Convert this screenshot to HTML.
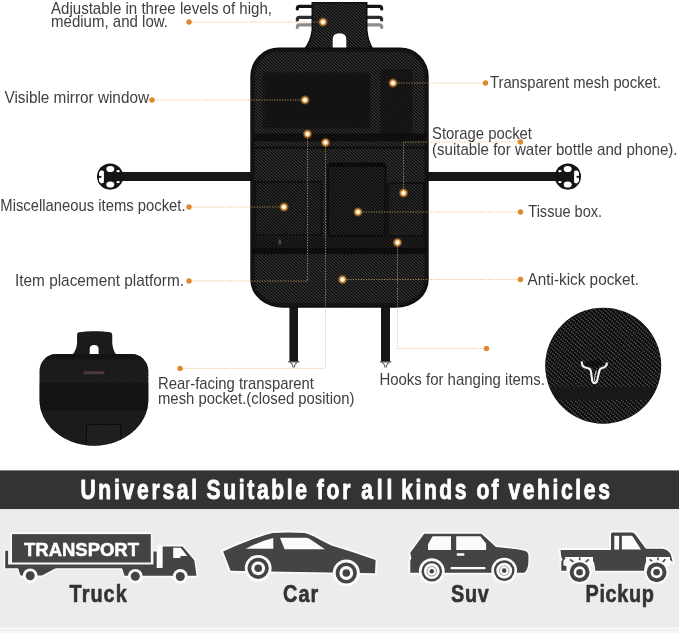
<!DOCTYPE html>
<html lang="en">
<head>
<meta charset="utf-8">
<title>Universal Suitable for all kinds of vehicles</title>
<style>
html,body{margin:0;padding:0;background:#fff;}
body{width:679px;height:633px;overflow:hidden;position:relative;}
svg{display:block;position:absolute;left:0;top:0;}
svg text{filter:grayscale(1);}
text{font-family:"Liberation Sans",Arial,sans-serif;}
</style>
</head>
<body>
<svg width="679" height="633" viewBox="0 0 679 633">
<defs>
<radialGradient id="glow">
<stop offset="0" stop-color="#fff"/>
<stop offset="0.3" stop-color="#fff2da"/>
<stop offset="0.52" stop-color="#f3a64a" stop-opacity="0.9"/>
<stop offset="1" stop-color="#c06a10" stop-opacity="0"/>
</radialGradient>
<path id="bodyp" d="M279 47.4 H400 A28.7 29 0 0 1 428.7 76.4 V280 A33 27.8 0 0 1 395.7 307.8 H283.3 A33 27.8 0 0 1 250.3 280 V76.4 A28.7 29 0 0 1 279 47.4 Z"/>
<clipPath id="bodyclip"><path d="M279 49.4 H400 A26.7 27 0 0 1 426.7 76.4 V280 A31 25.8 0 0 1 395.7 305.8 H283.3 A31 25.8 0 0 1 252.3 280 V76.4 A26.7 27 0 0 1 279 49.4 Z"/></clipPath>
<clipPath id="bodyfull"><path d="M279 47.4 H400 A28.7 29 0 0 1 428.7 76.4 V280 A33 27.8 0 0 1 395.7 307.8 H283.3 A33 27.8 0 0 1 250.3 280 V76.4 A28.7 29 0 0 1 279 47.4 Z"/><path d="M311.5 2.1 H367.5 V30 Q368.3 40 373.2 48.5 H304.3 Q310.5 40 311.5 30 Z"/></clipPath>
<clipPath id="tabclip"><path d="M313 3.6 H366 V30 Q366.8 40 371 48.5 H306.5 Q312 40 313 30 Z"/></clipPath>
<path id="foldp" d="M79.5 332.3 Q94.6 330.2 109.8 332.3 Q112.2 332.6 112.2 335 V343 Q112.6 349.5 115.8 354 H131.3 A17 17 0 0 1 148.3 371 V400 A54.35 45.7 0 0 1 94 445.7 A54.35 45.7 0 0 1 39.6 400 V371 A17 17 0 0 1 56.6 354 H73.2 Q76.6 349.5 77.1 343 V335 Q77.1 332.6 79.5 332.3 Z"/>
<clipPath id="foldclip"><path d="M79.5 332.3 Q94.6 330.2 109.8 332.3 Q112.2 332.6 112.2 335 V343 Q112.6 349.5 115.8 354 H131.3 A17 17 0 0 1 148.3 371 V400 A54.35 45.7 0 0 1 94 445.7 A54.35 45.7 0 0 1 39.6 400 V371 A17 17 0 0 1 56.6 354 H73.2 Q76.6 349.5 77.1 343 V335 Q77.1 332.6 79.5 332.3 Z"/></clipPath>
<clipPath id="circ"><circle cx="603.2" cy="365.7" r="57.6"/></clipPath>
<g id="wheelA"><circle r="13.2" fill="#ececec"/><circle r="11.2"/><circle r="7.4" fill="#ececec"/><circle r="4.2"/></g>
<g id="wheelB"><circle r="12.7" fill="#ececec"/><circle r="10.3"/><circle r="6.9" fill="#ececec"/><circle r="4.6"/><circle r="2.8" fill="#ececec"/><circle r="1.4"/></g>
<g id="wheelC"><circle r="11.5" fill="#ececec"/><circle r="9.6"/><circle r="5.8" fill="#ececec"/><circle r="3"/></g>
<g id="wheelT"><circle r="7.4" fill="#ececec"/><circle r="4.5"/></g>
</defs>
<rect width="679" height="633" fill="#fff"/>

<path d="M189 22 L323 22M152 100 L305 100M485.5 83 L393 83M189 207 L284 207M189 281 L307.5 281 L307.5 134M180 368.4 L325.5 368.4 L325.5 142.5M520.5 142 L403.5 142 L403.5 193M520.5 212 L358 212M520.5 279.5 L342.5 279.5M486.5 348.5 L397.5 348.5 L397.5 242.5" fill="none" stroke="#e6b06a" stroke-width="1" stroke-dasharray="1.3 1.3" opacity="0.72"/>
<g id="organizer">
<rect x="112" y="172" width="140" height="9" fill="#181818"/>
<rect x="427" y="172" width="140" height="9" fill="#181818"/>
<g transform="translate(110.1 176.6) scale(1 1)"><circle r="13.1" fill="#141414"/><ellipse cx="0.2" cy="-7.6" rx="4" ry="3.1" fill="#fff"/><ellipse cx="0.2" cy="7.9" rx="4" ry="3.1" fill="#fff"/><path d="M-11.1 -4 Q-10.2 -6.2 -8.2 -6.4 L-6.2 -5.4 V5.8 L-8.2 6.8 Q-10.2 6.6 -11.1 4.4 Z" fill="#fff"/><rect x="-13" y="-0.7" width="4.3" height="1.9" fill="#141414"/><ellipse cx="8" cy="-5.4" rx="1.7" ry="1.1" fill="#fff"/><ellipse cx="8" cy="5.5" rx="1.7" ry="1.1" fill="#fff"/></g>
<g transform="translate(567.9 176.6) scale(-1 1)"><circle r="13.1" fill="#141414"/><ellipse cx="0.2" cy="-7.6" rx="4" ry="3.1" fill="#fff"/><ellipse cx="0.2" cy="7.9" rx="4" ry="3.1" fill="#fff"/><path d="M-11.1 -4 Q-10.2 -6.2 -8.2 -6.4 L-6.2 -5.4 V5.8 L-8.2 6.8 Q-10.2 6.6 -11.1 4.4 Z" fill="#fff"/><rect x="-13" y="-0.7" width="4.3" height="1.9" fill="#141414"/><ellipse cx="8" cy="-5.4" rx="1.7" ry="1.1" fill="#fff"/><ellipse cx="8" cy="5.5" rx="1.7" ry="1.1" fill="#fff"/></g>
<rect x="289.4" y="305" width="8.6" height="56.5" fill="#161616"/>
<rect x="381" y="305" width="9" height="56.5" fill="#161616"/>
<path d="M288.2 361.8 H299.2" stroke="#444" stroke-width="1.3" fill="none"/>
<path d="M290.2 362.5 Q292.7 363.5 293.09999999999997 367.5 M297.2 362.5 Q294.7 363.5 294.3 367.5" stroke="#666" stroke-width="1.1" fill="none"/>
<path d="M380.1 361.8 H391.1" stroke="#444" stroke-width="1.3" fill="none"/>
<path d="M382.1 362.5 Q384.6 363.5 385.0 367.5 M389.1 362.5 Q386.6 363.5 386.20000000000005 367.5" stroke="#666" stroke-width="1.1" fill="none"/>
<path d="M313 6.4 H299.5 Q297.3 6.4 297.3 9.0" stroke="#151515" stroke-width="3.2" fill="none" stroke-linecap="round"/>
<path d="M366 6.4 H379.5 Q381.7 6.4 381.7 9.0" stroke="#151515" stroke-width="3.2" fill="none" stroke-linecap="round"/>
<path d="M313 17.3 H299.5 Q297.3 17.3 297.3 19.900000000000002" stroke="#2e2e2e" stroke-width="3.2" fill="none" stroke-linecap="round"/>
<path d="M366 17.3 H379.5 Q381.7 17.3 381.7 19.900000000000002" stroke="#2e2e2e" stroke-width="3.2" fill="none" stroke-linecap="round"/>
<path d="M313 24.8 H299.5 Q297.3 24.8 297.3 27.400000000000002" stroke="#8c8c8c" stroke-width="3.2" fill="none" stroke-linecap="round"/>
<path d="M366 24.8 H379.5 Q381.7 24.8 381.7 27.400000000000002" stroke="#8c8c8c" stroke-width="3.2" fill="none" stroke-linecap="round"/>
<path id="tabp" d="M311.5 2.1 H367.5 V30 Q368.3 40 373.2 48.5 H304.3 Q310.5 40 311.5 30 Z" fill="#0f0f0f"/>
<g clip-path="url(#tabclip)">
<path d="M378.89 0.00L380.00 1.00M375.56 0.00L380.00 4.00M372.22 0.00L380.00 7.00M368.89 0.00L380.00 10.00M365.56 0.00L380.00 13.00M362.22 0.00L380.00 16.00M358.89 -0.00L380.00 19.00M355.56 0.00L380.00 22.00M352.22 0.00L380.00 25.00M348.89 0.00L380.00 28.00M345.56 0.00L380.00 31.00M342.22 0.00L380.00 34.00M338.89 0.00L380.00 37.00M335.56 -0.00L380.00 40.00M332.22 0.00L380.00 43.00M328.89 0.00L380.00 46.00M325.56 0.00L380.00 49.00M322.22 0.00L377.78 50.00M318.89 0.00L374.44 50.00M315.56 0.00L371.11 50.00M312.22 0.00L367.78 50.00M308.89 -0.00L364.44 50.00M305.56 0.00L361.11 50.00M302.22 0.00L357.78 50.00M300.00 1.00L354.44 50.00M300.00 4.00L351.11 50.00M300.00 7.00L347.78 50.00M300.00 10.00L344.44 50.00M300.00 13.00L341.11 50.00M300.00 16.00L337.78 50.00M300.00 19.00L334.44 50.00M300.00 22.00L331.11 50.00M300.00 25.00L327.78 50.00M300.00 28.00L324.44 50.00M300.00 31.00L321.11 50.00M300.00 34.00L317.78 50.00M300.00 37.00L314.44 50.00M300.00 40.00L311.11 50.00M300.00 43.00L307.78 50.00M300.00 46.00L304.44 50.00M300.00 49.00L301.11 50.00" stroke="#464646" stroke-width="0.92" fill="none"/>
</g>
<path d="M332.7 48.5 V39.5 Q332.7 33.2 339.5 33.2 Q346.3 33.2 346.3 39.5 V48.5 Z" fill="#fff"/>
<use href="#bodyp" fill="#0f0f0f"/>
<g clip-path="url(#bodyclip)">
<path d="M428.33 47.00L430.00 48.50M425.00 47.00L430.00 51.50M421.67 47.00L430.00 54.50M418.33 47.00L430.00 57.50M415.00 47.00L430.00 60.50M411.67 47.00L430.00 63.50M408.33 47.00L430.00 66.50M405.00 47.00L430.00 69.50M401.67 47.00L430.00 72.50M398.33 47.00L430.00 75.50M395.00 47.00L430.00 78.50M391.67 47.00L430.00 81.50M388.33 47.00L430.00 84.50M385.00 47.00L430.00 87.50M381.67 47.00L430.00 90.50M378.33 47.00L430.00 93.50M375.00 47.00L430.00 96.50M371.67 47.00L430.00 99.50M368.33 47.00L430.00 102.50M365.00 47.00L430.00 105.50M361.67 47.00L430.00 108.50M358.33 47.00L430.00 111.50M355.00 47.00L430.00 114.50M351.67 47.00L430.00 117.50M348.33 47.00L430.00 120.50M345.00 47.00L430.00 123.50M341.67 47.00L430.00 126.50M338.33 47.00L430.00 129.50M335.00 47.00L430.00 132.50M331.67 47.00L430.00 135.50M328.33 47.00L430.00 138.50M325.00 47.00L430.00 141.50M321.67 47.00L430.00 144.50M318.33 47.00L430.00 147.50M315.00 47.00L430.00 150.50M311.67 47.00L430.00 153.50M308.33 47.00L430.00 156.50M305.00 47.00L430.00 159.50M301.67 47.00L430.00 162.50M298.33 47.00L430.00 165.50M295.00 47.00L430.00 168.50M291.67 47.00L430.00 171.50M288.33 47.00L430.00 174.50M285.00 47.00L430.00 177.50M281.67 47.00L430.00 180.50M278.33 47.00L430.00 183.50M275.00 47.00L430.00 186.50M271.67 47.00L430.00 189.50M268.33 47.00L430.00 192.50M265.00 47.00L430.00 195.50M261.67 47.00L430.00 198.50M258.33 47.00L430.00 201.50M255.00 47.00L430.00 204.50M251.67 47.00L430.00 207.50M250.00 48.50L430.00 210.50M250.00 51.50L430.00 213.50M250.00 54.50L430.00 216.50M250.00 57.50L430.00 219.50M250.00 60.50L430.00 222.50M250.00 63.50L430.00 225.50M250.00 66.50L430.00 228.50M250.00 69.50L430.00 231.50M250.00 72.50L430.00 234.50M250.00 75.50L430.00 237.50M250.00 78.50L430.00 240.50M250.00 81.50L430.00 243.50M250.00 84.50L430.00 246.50M250.00 87.50L430.00 249.50M250.00 90.50L430.00 252.50M250.00 93.50L430.00 255.50M250.00 96.50L430.00 258.50M250.00 99.50L430.00 261.50M250.00 102.50L430.00 264.50M250.00 105.50L430.00 267.50M250.00 108.50L430.00 270.50M250.00 111.50L430.00 273.50M250.00 114.50L430.00 276.50M250.00 117.50L430.00 279.50M250.00 120.50L430.00 282.50M250.00 123.50L430.00 285.50M250.00 126.50L430.00 288.50M250.00 129.50L430.00 291.50M250.00 132.50L430.00 294.50M250.00 135.50L430.00 297.50M250.00 138.50L430.00 300.50M250.00 141.50L430.00 303.50M250.00 144.50L430.00 306.50M250.00 147.50L428.33 308.00M250.00 150.50L425.00 308.00M250.00 153.50L421.67 308.00M250.00 156.50L418.33 308.00M250.00 159.50L415.00 308.00M250.00 162.50L411.67 308.00M250.00 165.50L408.33 308.00M250.00 168.50L405.00 308.00M250.00 171.50L401.67 308.00M250.00 174.50L398.33 308.00M250.00 177.50L395.00 308.00M250.00 180.50L391.67 308.00M250.00 183.50L388.33 308.00M250.00 186.50L385.00 308.00M250.00 189.50L381.67 308.00M250.00 192.50L378.33 308.00M250.00 195.50L375.00 308.00M250.00 198.50L371.67 308.00M250.00 201.50L368.33 308.00M250.00 204.50L365.00 308.00M250.00 207.50L361.67 308.00M250.00 210.50L358.33 308.00M250.00 213.50L355.00 308.00M250.00 216.50L351.67 308.00M250.00 219.50L348.33 308.00M250.00 222.50L345.00 308.00M250.00 225.50L341.67 308.00M250.00 228.50L338.33 308.00M250.00 231.50L335.00 308.00M250.00 234.50L331.67 308.00M250.00 237.50L328.33 308.00M250.00 240.50L325.00 308.00M250.00 243.50L321.67 308.00M250.00 246.50L318.33 308.00M250.00 249.50L315.00 308.00M250.00 252.50L311.67 308.00M250.00 255.50L308.33 308.00M250.00 258.50L305.00 308.00M250.00 261.50L301.67 308.00M250.00 264.50L298.33 308.00M250.00 267.50L295.00 308.00M250.00 270.50L291.67 308.00M250.00 273.50L288.33 308.00M250.00 276.50L285.00 308.00M250.00 279.50L281.67 308.00M250.00 282.50L278.33 308.00M250.00 285.50L275.00 308.00M250.00 288.50L271.67 308.00M250.00 291.50L268.33 308.00M250.00 294.50L265.00 308.00M250.00 297.50L261.67 308.00M250.00 300.50L258.33 308.00M250.00 303.50L255.00 308.00M250.00 306.50L251.67 308.00" stroke="#464646" stroke-width="0.92" fill="none"/>
<rect x="262.5" y="72.5" width="108" height="56" rx="3" fill="#0b0b0b" opacity="0.45"/>
<rect x="266" y="75" width="103" height="52" fill="#0e0e0e" opacity="0.35"/>
<rect x="380.5" y="69" width="32" height="66" rx="2" fill="#0b0b0b" opacity="0.5"/>
<rect x="250" y="133.5" width="180" height="8" fill="#0e0e0e"/>
<rect x="250" y="146.5" width="180" height="2.2" fill="#0e0e0e"/>
<rect x="255" y="182" width="66.5" height="53" fill="#0b0b0b" fill-opacity="0.12" stroke="#0b0b0b" stroke-width="1.6" stroke-opacity="0.8"/>
<rect x="328" y="164" width="57.5" height="72" rx="3" fill="#0b0b0b" fill-opacity="0.3" stroke="#0b0b0b" stroke-width="2" stroke-opacity="0.85"/>
<rect x="388" y="183" width="36" height="53" fill="#0b0b0b" fill-opacity="0.12" stroke="#0b0b0b" stroke-width="1.6" stroke-opacity="0.8"/>
<rect x="329" y="162.5" width="55.5" height="4.5" fill="#0b0b0b" opacity="0.85"/>
<rect x="250" y="236.5" width="180" height="11.5" fill="#0d0d0d" opacity="0.45"/>
<rect x="250" y="248" width="180" height="6" fill="#0c0c0c"/>
<rect x="278.5" y="239.5" width="2.6" height="5" fill="#4a4a4a"/>
<use href="#bodyp" fill="none" stroke="#0d0d0d" stroke-width="9" stroke-opacity="0.6"/>
</g>
</g>
<g clip-path="url(#bodyfull)"><path d="M189 22 L323 22M152 100 L305 100M485.5 83 L393 83M189 207 L284 207M189 281 L307.5 281 L307.5 134M180 368.4 L325.5 368.4 L325.5 142.5M520.5 142 L403.5 142 L403.5 193M520.5 212 L358 212M520.5 279.5 L342.5 279.5M486.5 348.5 L397.5 348.5 L397.5 242.5" fill="none" stroke="#b8955e" stroke-width="1" stroke-dasharray="1.3 1.3" opacity="0.85"/></g>
<g>
<circle cx="189" cy="22" r="2.7" fill="#dc8a2c"/>
<circle cx="152" cy="100" r="2.7" fill="#dc8a2c"/>
<circle cx="485.5" cy="83" r="2.7" fill="#dc8a2c"/>
<circle cx="189" cy="207" r="2.7" fill="#dc8a2c"/>
<circle cx="189" cy="281" r="2.7" fill="#dc8a2c"/>
<circle cx="180" cy="368.4" r="2.7" fill="#dc8a2c"/>
<circle cx="520.5" cy="142" r="2.7" fill="#dc8a2c"/>
<circle cx="520.5" cy="212" r="2.7" fill="#dc8a2c"/>
<circle cx="520.5" cy="279.5" r="2.7" fill="#dc8a2c"/>
<circle cx="486.5" cy="348.5" r="2.7" fill="#dc8a2c"/>
<circle cx="323" cy="22" r="5.2" fill="url(#glow)"/>
<circle cx="305" cy="100" r="5.2" fill="url(#glow)"/>
<circle cx="393" cy="83" r="5.2" fill="url(#glow)"/>
<circle cx="284" cy="207" r="5.2" fill="url(#glow)"/>
<circle cx="307.5" cy="134" r="5.2" fill="url(#glow)"/>
<circle cx="325.5" cy="142.5" r="5.2" fill="url(#glow)"/>
<circle cx="403.5" cy="193" r="5.2" fill="url(#glow)"/>
<circle cx="358" cy="212" r="5.2" fill="url(#glow)"/>
<circle cx="342.5" cy="279.5" r="5.2" fill="url(#glow)"/>
<circle cx="397.5" cy="242.5" r="5.2" fill="url(#glow)"/>
</g>
<g>
<text x="51" y="14.4" font-size="16.2" font-weight="normal" fill="#404040" textLength="221" lengthAdjust="spacingAndGlyphs">Adjustable in three levels of high,</text>
<text x="51" y="26.9" font-size="16.2" font-weight="normal" fill="#404040" textLength="117" lengthAdjust="spacingAndGlyphs">medium, and low.</text>
<text x="4.5" y="102.5" font-size="16.2" font-weight="normal" fill="#404040" textLength="144.5" lengthAdjust="spacingAndGlyphs">Visible mirror window</text>
<text x="490" y="88" font-size="16.2" font-weight="normal" fill="#404040" textLength="171" lengthAdjust="spacingAndGlyphs">Transparent mesh pocket.</text>
<text x="432" y="139" font-size="16.2" font-weight="normal" fill="#404040" textLength="100" lengthAdjust="spacingAndGlyphs">Storage pocket</text>
<text x="432" y="155.0" font-size="16.2" font-weight="normal" fill="#404040" textLength="245.5" lengthAdjust="spacingAndGlyphs">(suitable for water bottle and phone).</text>
<text x="0.3" y="211" font-size="16.2" font-weight="normal" fill="#404040" textLength="185.3" lengthAdjust="spacingAndGlyphs">Miscellaneous items pocket.</text>
<text x="15" y="286" font-size="16.2" font-weight="normal" fill="#404040" textLength="169" lengthAdjust="spacingAndGlyphs">Item placement platform.</text>
<text x="528.3" y="217" font-size="16.2" font-weight="normal" fill="#404040" textLength="73.8" lengthAdjust="spacingAndGlyphs">Tissue box.</text>
<text x="527.5" y="285" font-size="16.2" font-weight="normal" fill="#404040" textLength="111.5" lengthAdjust="spacingAndGlyphs">Anti-kick pocket.</text>
<text x="158" y="388.5" font-size="16.2" font-weight="normal" fill="#404040" textLength="156" lengthAdjust="spacingAndGlyphs">Rear-facing transparent</text>
<text x="158" y="403.5" font-size="16.2" font-weight="normal" fill="#404040" textLength="196.5" lengthAdjust="spacingAndGlyphs">mesh pocket.(closed position)</text>
<text x="379.4" y="384.7" font-size="16.2" font-weight="normal" fill="#404040" textLength="165.6" lengthAdjust="spacingAndGlyphs">Hooks for hanging items.</text>
</g>
<g id="folded">
<use href="#foldp" fill="#131313"/>
<g clip-path="url(#foldclip)">
<path d="M149.38 330.00L150.00 330.50M146.20 330.00L150.00 333.08M143.02 330.00L150.00 335.65M139.85 330.00L150.00 338.22M136.67 330.00L150.00 340.80M133.49 330.00L150.00 343.37M130.31 330.00L150.00 345.94M127.13 330.00L150.00 348.52M123.96 330.00L150.00 351.09M120.78 330.00L150.00 353.66M117.60 330.00L150.00 356.24M114.42 330.00L150.00 358.81M111.24 330.00L150.00 361.38M108.07 330.00L150.00 363.96M104.89 330.00L150.00 366.53M101.71 330.00L150.00 369.11M98.53 330.00L150.00 371.68M95.35 330.00L150.00 374.25M92.18 330.00L150.00 376.83M89.00 330.00L150.00 379.40M85.82 330.00L150.00 381.97M82.64 330.00L150.00 384.55M79.46 330.00L150.00 387.12M76.29 330.00L150.00 389.69M73.11 330.00L150.00 392.27M69.93 330.00L150.00 394.84M66.75 330.00L150.00 397.41M63.57 330.00L150.00 399.99M60.39 330.00L150.00 402.56M57.22 330.00L150.00 405.13M54.04 330.00L150.00 407.71M50.86 330.00L150.00 410.28M47.68 330.00L150.00 412.85M44.50 330.00L150.00 415.43M41.33 330.00L150.00 418.00M39.00 330.69L150.00 420.58M39.00 333.26L150.00 423.15M39.00 335.84L150.00 425.72M39.00 338.41L150.00 428.30M39.00 340.98L150.00 430.87M39.00 343.56L150.00 433.44M39.00 346.13L150.00 436.02M39.00 348.70L150.00 438.59M39.00 351.28L150.00 441.16M39.00 353.85L150.00 443.74M39.00 356.42L150.00 446.31M39.00 359.00L147.67 447.00M39.00 361.57L144.50 447.00M39.00 364.15L141.32 447.00M39.00 366.72L138.14 447.00M39.00 369.29L134.96 447.00M39.00 371.87L131.78 447.00M39.00 374.44L128.61 447.00M39.00 377.01L125.43 447.00M39.00 379.59L122.25 447.00M39.00 382.16L119.07 447.00M39.00 384.73L115.89 447.00M39.00 387.31L112.71 447.00M39.00 389.88L109.54 447.00M39.00 392.45L106.36 447.00M39.00 395.03L103.18 447.00M39.00 397.60L100.00 447.00M39.00 400.17L96.82 447.00M39.00 402.75L93.65 447.00M39.00 405.32L90.47 447.00M39.00 407.89L87.29 447.00M39.00 410.47L84.11 447.00M39.00 413.04L80.93 447.00M39.00 415.62L77.76 447.00M39.00 418.19L74.58 447.00M39.00 420.76L71.40 447.00M39.00 423.34L68.22 447.00M39.00 425.91L65.04 447.00M39.00 428.48L61.87 447.00M39.00 431.06L58.69 447.00M39.00 433.63L55.51 447.00M39.00 436.20L52.33 447.00M39.00 438.78L49.15 447.00M39.00 441.35L45.98 447.00M39.00 443.92L42.80 447.00M39.00 446.50L39.62 447.00" stroke="#2c2c2c" stroke-width="0.9" fill="none"/>
<rect x="39" y="354" width="110" height="5.5" fill="#111" opacity="0.8"/>
<rect x="39" y="383" width="110" height="28" fill="#0e0e0e" opacity="0.55"/>
<rect x="86.5" y="424.5" width="34.2" height="22" fill="#2a2a2a" opacity="0.3"/>
<path d="M86.5 446 V424.5 H120.7 V446" fill="none" stroke="#0c0c0c" stroke-width="1"/>
</g>
<path d="M89.7 354 V349 Q89.7 345 94.1 345 Q98.6 345 98.6 349 V354 Z" fill="#fff"/>
<rect x="83.3" y="371.3" width="21.3" height="3" rx="1.5" fill="#4e3a38"/>
</g>
<g id="detail">
<circle cx="603.2" cy="365.7" r="58" fill="#080808"/>
<g clip-path="url(#circ)">
<path d="M599.92 279.51L688.55 362.15M598.60 282.65L686.36 364.49M595.56 284.19L684.18 366.83M594.24 287.33L682.00 369.17M591.20 288.87L679.82 371.51M589.87 292.02L677.63 373.86M586.83 293.55L675.45 376.20M585.51 296.70L673.27 378.54M582.47 298.24L671.09 380.88M581.14 301.38L668.91 383.22M578.10 302.92L666.72 385.56M576.78 306.06L664.54 387.90M573.74 307.60L662.36 390.24M572.41 310.74L660.18 392.58M569.37 312.28L657.99 394.92M568.05 315.42L655.81 397.26M565.01 316.96L653.63 399.60M563.68 320.10L651.45 401.94M560.64 321.64L649.26 404.28M559.32 324.78L647.08 406.62M556.28 326.32L644.90 408.96M554.95 329.46L642.72 411.30M551.91 331.00L640.53 413.64M550.59 334.14L638.35 415.98M547.55 335.68L636.17 418.32M546.22 338.82L633.99 420.66M543.18 340.36L631.80 423.00M541.86 343.50L629.62 425.34M538.82 345.04L627.44 427.68M537.49 348.18L625.26 430.02M534.45 349.72L623.07 432.36M533.13 352.86L620.89 434.70M530.09 354.40L618.71 437.04M528.77 357.54L616.53 439.38M525.72 359.08L614.35 441.72M524.40 362.23L612.16 444.07M521.36 363.76L609.98 446.41M520.04 366.91L607.80 448.75M516.99 368.45L605.62 451.09" stroke="#4c4c4c" stroke-width="1.75" stroke-dasharray="1.45 0.9" fill="none"/>
<rect x="545" y="387.3" width="120" height="12.3" fill="#181818"/>
<ellipse cx="594.3" cy="363.4" rx="9" ry="3.2" fill="#0a0a0a" opacity="0.6"/>
</g>
<path d="M581.9 362.3 Q581.6 366 584.6 367.2 L588.8 368.4 Q590.6 369 591 372 L592.2 380.4 Q592.8 383 594.6 383 Q596.6 383 597.2 380 L599.3 371 Q599.8 368.6 602 368 L604.4 367.2 Q606.8 366 606.8 363.2" fill="none" stroke="#f4f4f4" stroke-width="2.1" stroke-linecap="round" stroke-linejoin="round"/>
<path d="M594.4 381 Q594.6 375 596.4 370.5" fill="none" stroke="#d8d8d8" stroke-width="1"/>
</g>
<rect x="0" y="470.4" width="679" height="38.8" fill="#333333"/>
<rect x="0" y="509.2" width="679" height="118.6" fill="#ececec"/>
<rect x="0" y="627.8" width="679" height="5.2" fill="#f7f7f7"/>
<rect x="0" y="630" width="679" height="1" fill="#efefef"/>
<text transform="scale(0.77 1)" y="498.9" font-size="27.4" font-weight="bold" fill="#ffffff" stroke="#ffffff" stroke-width="0.9" stroke-linejoin="round" vector-effect="non-scaling-stroke"><tspan x="104.45" textLength="151.60" lengthAdjust="spacing">Universal</tspan> <tspan x="268.27" textLength="130.55" lengthAdjust="spacing">Suitable</tspan> <tspan x="411.26" textLength="44.01" lengthAdjust="spacing">for</tspan> <tspan x="469.29" textLength="40.21" lengthAdjust="spacing">all</tspan> <tspan x="521.09" textLength="84.71" lengthAdjust="spacing">kinds</tspan> <tspan x="618.73" textLength="28.61" lengthAdjust="spacing">of</tspan> <tspan x="660.37" textLength="131.68" lengthAdjust="spacing">vehicles</tspan></text>
<g id="vehicles">
<g id="truck">
<path d="M12 534.1 H150.8 V562.5 H12 Z" fill="#fbfbfb" stroke="#fbfbfb" stroke-width="3.2" stroke-linejoin="round"/>
<path d="M5.2 550.8 H8.1 V564.4 H153.4 V551.5 H156.7 V568.2 H5.2 Z" fill="#fbfbfb" stroke="#fbfbfb" stroke-width="2.6" stroke-linejoin="round"/>
<path d="M18 568 H56 L42 575.6 H20.5 Z" fill="#fbfbfb" stroke="#fbfbfb" stroke-width="2.6" stroke-linejoin="round"/>
<path d="M122 568 H162.6 V546.4 H182.5 L194.3 560.3 L196.5 575.8 H124.5 Z" fill="#fbfbfb" stroke="#fbfbfb" stroke-width="3.2" stroke-linejoin="round"/>
<path d="M5.2 550.8 H8.1 V564.4 H153.4 V551.5 H156.7 V568.2 H5.2 Z" fill="#444444"/>
<path d="M18 568 H56 L42 575.6 H20.5 Z" fill="#444444"/>
<path d="M122 568 H162.6 V546.4 H182.5 L194.3 560.3 L196.5 575.8 H124.5 Z" fill="#444444"/>
<rect x="157.3" y="544.8" width="4.9" height="20.6" fill="#fbfbfb"/>
<rect x="10.6" y="532.7" width="141.6" height="31.2" fill="#fbfbfb"/>
<rect x="12" y="534.1" width="138.8" height="28.4" fill="#444444"/>
<path d="M173.2 547.8 H180.8 L187.2 556 H180.4 V558.1 H173.2 Z" fill="#fbfbfb"/>
<circle cx="30.2" cy="575.8" r="7.4" fill="#fbfbfb"/><circle cx="30.2" cy="575.8" r="4.5" fill="#444444"/><circle cx="30.2" cy="575.8" r="0" fill="#fbfbfb"/><circle cx="30.2" cy="575.8" r="0" fill="#444444"/>
<circle cx="135.3" cy="576.3" r="7.4" fill="#fbfbfb"/><circle cx="135.3" cy="576.3" r="4.5" fill="#444444"/><circle cx="135.3" cy="576.3" r="0" fill="#fbfbfb"/><circle cx="135.3" cy="576.3" r="0" fill="#444444"/>
<circle cx="180.3" cy="576.5" r="7.4" fill="#fbfbfb"/><circle cx="180.3" cy="576.5" r="4.5" fill="#444444"/><circle cx="180.3" cy="576.5" r="0" fill="#fbfbfb"/><circle cx="180.3" cy="576.5" r="0" fill="#444444"/>
</g>
<text x="24" y="556.1" font-size="19" font-weight="bold" fill="#fff" textLength="115" lengthAdjust="spacingAndGlyphs" stroke="#fff" stroke-width="0.5" stroke-linejoin="round">TRANSPORT</text>
<g id="car">
<path d="M223.2 551.4 Q236 545.4 247.5 541.2 Q262 535.6 272.6 533.1 Q288 531.8 305 533 Q309 534 314 536.6 Q323 541.6 331.3 545.5 Q354 552.3 375.6 559.9 L375 573.3 L230.6 570.8 Z" fill="#fbfbfb" stroke="#fbfbfb" stroke-width="3.6" stroke-linejoin="round"/><path d="M223.2 551.4 Q236 545.4 247.5 541.2 Q262 535.6 272.6 533.1 Q288 531.8 305 533 Q309 534 314 536.6 Q323 541.6 331.3 545.5 Q354 552.3 375.6 559.9 L375 573.3 L230.6 570.8 Z" fill="#444444"/>
<path d="M245.7 548.8 Q259 541.6 273.2 538 L273.4 548.8 Z" fill="#fbfbfb"/>
<path d="M280 537.8 H305.5 Q308 537.8 310.2 539.2 L325 549.2 H284.6 Z" fill="#fbfbfb"/>
<circle cx="258.2" cy="568.3" r="13.4" fill="#fbfbfb"/><circle cx="258.2" cy="568.3" r="10.6" fill="#444444"/><circle cx="258.2" cy="568.3" r="6.9" fill="#fbfbfb"/><circle cx="258.2" cy="568.3" r="3.8" fill="#444444"/>
<circle cx="346.3" cy="573.0" r="13.6" fill="#fbfbfb"/><circle cx="346.3" cy="573.0" r="10.6" fill="#444444"/><circle cx="346.3" cy="573.0" r="6.9" fill="#fbfbfb"/><circle cx="346.3" cy="573.0" r="3.8" fill="#444444"/>
</g>
<g id="suv">
<path d="M424.2 533.7 H481.5 L495.9 547.1 Q512 548.6 524.8 550.7 Q528.2 552 528.4 555.5 V562 Q528.2 566.5 526.9 569.2 Q525.8 572 523.8 572.8 H410.3 V560 L411.4 558.8 L410.3 552.7 Z" fill="#fbfbfb" stroke="#fbfbfb" stroke-width="3.6" stroke-linejoin="round"/><path d="M424.2 533.7 H481.5 L495.9 547.1 Q512 548.6 524.8 550.7 Q528.2 552 528.4 555.5 V562 Q528.2 566.5 526.9 569.2 Q525.8 572 523.8 572.8 H410.3 V560 L411.4 558.8 L410.3 552.7 Z" fill="#444444"/>
<path d="M432.6 536.2 H451 V549.9 H428 V544.2 Z" fill="#fbfbfb"/>
<path d="M456.2 536.2 H480.3 L486.1 543.5 V549.9 H456.2 Z" fill="#fbfbfb"/>
<rect x="456.7" y="553.3" width="7.7" height="2.4" rx="0.8" fill="#fbfbfb"/>
<rect x="450.5" y="567" width="35.1" height="2.3" rx="1.1" fill="#fbfbfb"/>
<circle cx="431.8" cy="571.2" r="12.9" fill="#fbfbfb"/><circle cx="431.8" cy="571.2" r="10.3" fill="#444444"/><circle cx="431.8" cy="571.2" r="7.9" fill="#fbfbfb"/><circle cx="431.8" cy="571.2" r="5.2" fill="#9a9a9a"/><circle cx="431.8" cy="571.2" r="4.3" fill="#fbfbfb"/><circle cx="431.8" cy="571.2" r="2.3" fill="#444444"/>
<circle cx="504.2" cy="570.6" r="12.9" fill="#fbfbfb"/><circle cx="504.2" cy="570.6" r="10.3" fill="#444444"/><circle cx="504.2" cy="570.6" r="7.9" fill="#fbfbfb"/><circle cx="504.2" cy="570.6" r="5.2" fill="#9a9a9a"/><circle cx="504.2" cy="570.6" r="4.3" fill="#fbfbfb"/><circle cx="504.2" cy="570.6" r="2.3" fill="#444444"/>
</g>
<g id="pickup">
<path d="M611 534.2 Q611 532.4 612.8 532.4 H631.6 Q634 532.4 635.3 534.4 L645.8 548.7 H662.5 Q668.6 549.6 670.9 554.9 L672.6 562.2 L669.8 559.6 Q668 557 664.5 557 H649.7 Q644.6 561 644 570.8 H595.3 Q595 561 590.1 556.9 H564.9 L565.6 558.6 L563.4 561 L563.4 565.6 L566.4 566 V570.8 H561.3 V561.5 L562.6 559.6 L561.3 556.9 L560.5 549.9 H611 Z" fill="#fbfbfb" stroke="#fbfbfb" stroke-width="3.6" stroke-linejoin="round"/><path d="M611 534.2 Q611 532.4 612.8 532.4 H631.6 Q634 532.4 635.3 534.4 L645.8 548.7 H662.5 Q668.6 549.6 670.9 554.9 L672.6 562.2 L669.8 559.6 Q668 557 664.5 557 H649.7 Q644.6 561 644 570.8 H595.3 Q595 561 590.1 556.9 H564.9 L565.6 558.6 L563.4 561 L563.4 565.6 L566.4 566 V570.8 H561.3 V561.5 L562.6 559.6 L561.3 556.9 L560.5 549.9 H611 Z" fill="#444444"/>
<path d="M621.9 535.8 H631 Q632.2 535.8 633 537 L641 549.6 H621.9 Z" fill="#fbfbfb"/>
<rect x="614.3" y="535.8" width="4.8" height="13.8" fill="#fbfbfb"/>
<path d="M566.5 557 H593 V566 H566.5 Z M646 557 H670 V566 H646 Z" fill="#fbfbfb"/>
<path d="M570 559.3 L573.8 562.4 M588.8 559.3 L585 562.6 M579.7 557.5 V560.6 M649.8 559.3 L653 562.2 M665.2 559.3 L662.6 562.6 M658 557.5 V560.6" stroke="#444444" stroke-width="1.6" fill="none"/>
<circle cx="579.6" cy="572.2" r="12" fill="#fbfbfb"/><circle cx="579.6" cy="572.2" r="9.9" fill="#444444"/><circle cx="579.6" cy="572.2" r="5.9" fill="#fbfbfb"/><circle cx="579.6" cy="572.2" r="3.3" fill="#444444"/>
<circle cx="656.6" cy="572.3" r="12" fill="#fbfbfb"/><circle cx="656.6" cy="572.3" r="9.9" fill="#444444"/><circle cx="656.6" cy="572.3" r="5.9" fill="#fbfbfb"/><circle cx="656.6" cy="572.3" r="3.3" fill="#444444"/>
</g>
</g>
<text transform="scale(0.84 1)" x="82.89" y="602.4" font-size="23.7" font-weight="bold" fill="#333333" stroke="#333333" stroke-width="0.55" stroke-linejoin="round" vector-effect="non-scaling-stroke" textLength="68.01" lengthAdjust="spacing">Truck</text>
<text transform="scale(0.84 1)" x="336.90" y="602.4" font-size="23.7" font-weight="bold" fill="#333333" stroke="#333333" stroke-width="0.55" stroke-linejoin="round" vector-effect="non-scaling-stroke" textLength="42.12" lengthAdjust="spacing">Car</text>
<text transform="scale(0.84 1)" x="536.93" y="602.4" font-size="23.7" font-weight="bold" fill="#333333" stroke="#333333" stroke-width="0.55" stroke-linejoin="round" vector-effect="non-scaling-stroke" textLength="45.15" lengthAdjust="spacing">Suv</text>
<text transform="scale(0.84 1)" x="697.16" y="602.4" font-size="23.7" font-weight="bold" fill="#333333" stroke="#333333" stroke-width="0.55" stroke-linejoin="round" vector-effect="non-scaling-stroke" textLength="81.19" lengthAdjust="spacing">Pickup</text>
</svg>
</body>
</html>
